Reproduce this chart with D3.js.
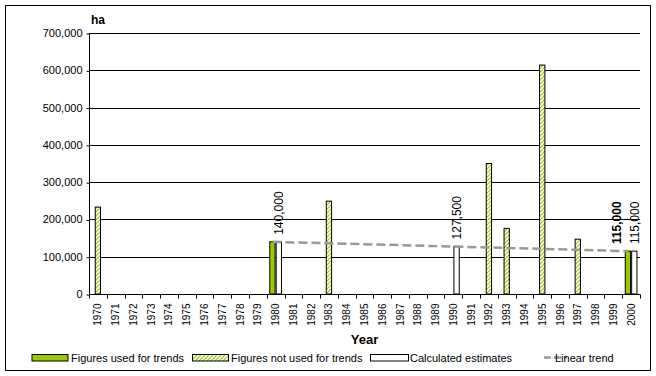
<!DOCTYPE html>
<html>
<head>
<meta charset="utf-8">
<script src="https://cdn.jsdelivr.net/npm/d3@7"></script>
<style>
  body { margin: 0; background: #fff; }
  svg { font-family: "Liberation Sans", Arial, sans-serif; }
</style>
</head>
<body>
<script>
// categories
const years = ['1970','1971','1972','1973','1974','1975','1976','1977','1978','1979',
	'1980','1981','1982','1983','1984','1985','1986','1987','1988','1989',
	'1990','1991','1992','1993','1994','1995','1996','1997','1998','1999','2000'];

// series values (ha)
const usedYears = ['1980', '2000'];
const usedValues = [140000, 115000];

const notUsedYears = ['1970', '1983', '1992', '1993', '1995', '1997'];
const notUsedValues = [233000, 249000, 350000, 176000, 614000, 147000];

const calcYears = ['1980', '1990', '2000'];
const calcValues = [140000, 127500, 115000];

const seriesNames = ['Figures used for trends', 'Figures not used for trends', 'Calculated estimates', 'Linear trend'];
const yTicks = [0, 100000, 200000, 300000, 400000, 500000, 600000, 700000];

const W = 656, H = 376;
const svg = d3.select('body').append('svg')
	.attr('width', W)
	.attr('height', H);

// hatch pattern
const defs = svg.append('defs');
defs.append('pattern')
	.attr('id', 'hatch')
	.attr('patternUnits', 'userSpaceOnUse')
	.attr('width', 4)
	.attr('height', 4)
	.call(p => {
		p.append('rect').attr('width', 4).attr('height', 4).attr('fill', '#fff');
		p.append('path').attr('d', 'M-1,1 l2,-2 M0,4 l4,-4 M3,5 l2,-2')
			.attr('stroke', '#99cc00').attr('stroke-width', 1.2);
	});

// outer border
svg.append('rect')
	.attr('x', 5.5).attr('y', 5.5)
	.attr('width', 645).attr('height', 365)
	.attr('fill', 'none').attr('stroke', '#000');

const x = d3.scaleBand().domain(years).range([89, 640]).padding(0);
const y = d3.scaleLinear().domain([0, 700000]).range([294, 33]);

// bar placement inside a category (Excel-style overlap)
const bw = x.bandwidth();
const barW = 5.3, step = 3.2;
const pad = (bw - (barW + 2 * step)) / 2;
const offset = i => pad + i * step;

// gridlines
svg.append('g').selectAll('line')
	.data(yTicks.slice(1))
	.enter().append('line')
	.attr('x1', 89).attr('x2', 640)
	.attr('y1', d => Math.round(y(d)) + 0.5)
	.attr('y2', d => Math.round(y(d)) + 0.5)
	.attr('stroke', '#000');

// y axis
const yAxis = svg.append('g')
	.attr('transform', 'translate(89.5,0)')
	.call(d3.axisLeft(y).tickValues(yTicks).tickFormat(d3.format(',')).tickSize(3).tickPadding(4));
yAxis.selectAll('.tick line').attr('transform', 'translate(0,0.5)');
yAxis.select('.domain').attr('d', 'M0,' + y(700000) + 'V' + y(0));
yAxis.selectAll('text').attr('font-size', 11).attr('font-family', '"Liberation Sans", Arial, sans-serif');

// x axis
const xAxis = svg.append('g')
	.attr('transform', 'translate(0,294.5)')
	.call(d3.axisBottom(x).tickSize(0));
xAxis.select('.domain').attr('d', 'M89,0H640');
xAxis.selectAll('text')
	.attr('transform', 'rotate(-90)')
	.attr('x', -9).attr('y', 0).attr('dy', '0.35em')
	.attr('text-anchor', 'end')
	.attr('font-size', 10)
	.attr('font-family', '"Liberation Sans", Arial, sans-serif');
xAxis.selectAll('.boundary')
	.data(years.concat(['end']))
	.enter().append('line')
	.attr('class', 'boundary')
	.attr('x1', d => d === 'end' ? 640.5 : Math.round(x(d)) + 0.5)
	.attr('x2', d => d === 'end' ? 640.5 : Math.round(x(d)) + 0.5)
	.attr('y1', 0).attr('y2', 4)
	.attr('stroke', '#000');

// bars
function drawBars(cats, vals, idx, fill) {
	svg.append('g').selectAll('rect')
		.data(cats.map((c, i) => ({ c, v: vals[i] })))
		.enter().append('rect')
		.attr('x', d => x(d.c) + offset(idx))
		.attr('y', d => y(d.v))
		.attr('width', barW)
		.attr('height', d => y(0) - y(d.v))
		.attr('fill', fill)
		.attr('stroke', '#000')
		.attr('stroke-width', 1);
}
drawBars(usedYears, usedValues, 0, '#99cc00');
drawBars(notUsedYears, notUsedValues, 1, 'url(#hatch)');
drawBars(calcYears, calcValues, 2, '#fff');

// linear trend (through the used figures)
const tx1 = x(usedYears[0]) + offset(0) + barW / 2;
const tx2 = x(usedYears[1]) + offset(0) + barW / 2;
svg.append('line')
	.attr('x1', tx1).attr('y1', y(usedValues[0]))
	.attr('x2', tx2).attr('y2', y(usedValues[1]))
	.attr('stroke', '#999')
	.attr('stroke-width', 2.5)
	.attr('stroke-dasharray', '9,4');

// data labels
svg.append('g').selectAll('text')
	.data(calcYears.map((c, i) => ({ c, v: calcValues[i] })))
	.enter().append('text')
	.attr('transform', d => `translate(${x(d.c) + offset(2) + barW / 2},${y(d.v) - 7}) rotate(-90)`)
	.attr('dy', '0.35em')
	.attr('font-size', 12)
	.text(d => d3.format(',')(d.v));

svg.append('text')
	.attr('transform', `translate(${x(usedYears[1]) + offset(0) + barW / 2 - 11},${y(usedValues[1]) - 7}) rotate(-90)`)
	.attr('dy', '0.35em')
	.attr('font-size', 12)
	.attr('font-weight', 'bold')
	.text(d3.format(',')(usedValues[1]));

// axis titles
svg.append('text')
	.attr('x', 91).attr('y', 24)
	.attr('font-size', 12).attr('font-weight', 'bold')
	.text('ha');
svg.append('text')
	.attr('x', 364.5).attr('y', 344)
	.attr('text-anchor', 'middle')
	.attr('font-size', 13).attr('font-weight', 'bold')
	.text('Year');

// legend
const leg = svg.append('g');
const legItems = [
	{ x: 32, w: 36, fill: '#99cc00', tx: 71 },
	{ x: 192.5, w: 36, fill: 'url(#hatch)', tx: 231 },
	{ x: 370.5, w: 38, fill: '#fff', tx: 410 }
];
legItems.forEach((it, i) => {
	leg.append('rect')
		.attr('x', it.x).attr('y', 354.5)
		.attr('width', it.w).attr('height', 6.5)
		.attr('fill', it.fill).attr('stroke', '#000');
	leg.append('text')
		.attr('x', it.tx).attr('y', 362)
		.attr('font-size', 11)
		.text(seriesNames[i]);
});
leg.append('line')
	.attr('x1', 544).attr('x2', 567)
	.attr('y1', 357.5).attr('y2', 357.5)
	.attr('stroke', '#999').attr('stroke-width', 2.5)
	.attr('stroke-dasharray', '7,3');
leg.append('text')
	.attr('x', 555).attr('y', 362)
	.attr('font-size', 11)
	.text(seriesNames[3]);
</script>
</body>
</html>
